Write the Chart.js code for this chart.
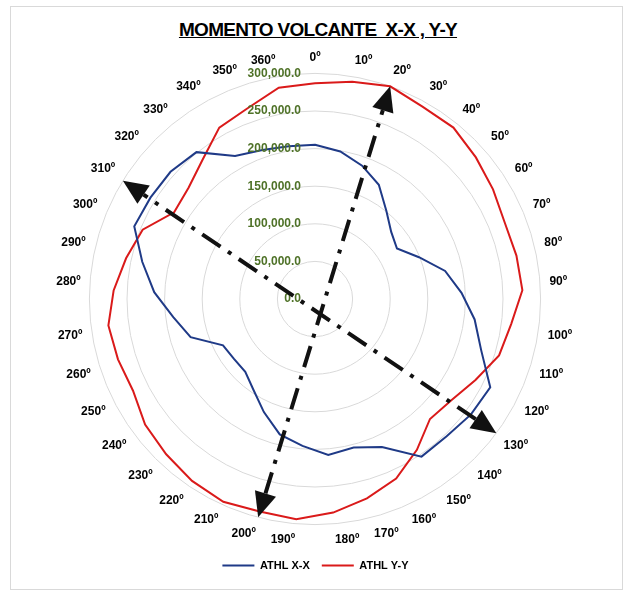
<!DOCTYPE html>
<html>
<head>
<meta charset="utf-8">
<script src="https://cdn.jsdelivr.net/npm/chart.js@4.4.1/dist/chart.umd.min.js"></script>
<style>
   body { margin: 0; background: #fff; }
   #frame { position: absolute; left: 10px; top: 6px; width: 611px; height: 582px; border: 1px solid #d9d9d9; }
   #title { position: absolute; left: 0; top: 19px; width: 636px; text-align: center; font: bold 19px "Liberation Sans", Arial, sans-serif; letter-spacing: -0.7px; text-decoration: underline; color: #000; }
   #chart-container { position: absolute; left: 0; top: 0; width: 625px; height: 597px; }
</style>
</head>
<body>
<div id="frame"></div>
<div id="title">MOMENTO VOLCANTE&nbsp; X-X , Y-Y</div>
<div id="chart-container"><canvas id="myChart" width="625" height="597"></canvas></div>
<script>
// categorias (grados)
const labels = ['0º','10º','20º','30º','40º','50º','60º','70º','80º','90º','100º','110º','120º','130º','140º','150º','160º','170º','180º',
   '190º','200º','210º','220º','230º','240º','250º','260º','270º','280º','290º','300º','310º','320º','330º','340º','350º','360º'];
// ATHL X-X
const athlXX = [205000,199000,188000,174000,151000,135000,128000,149000,177000,195000,214000,231000,261000,258000,253000,253000,216000,204000,208000,
   196000,186000,165000,146000,134000,134000,137000,173000,190000,214000,235000,259000,257000,256000,251000,218000,210000,206000];
// ATHL Y-Y
const athlYY = [287000,293000,300000,293000,293000,285000,278000,272000,274000,276000,263000,256000,239000,226000,221000,242000,262000,274000,285000,
   294000,292000,296000,292000,286000,281000,271000,274000,277000,268000,257000,247000,220000,224000,238000,261000,269000,285000];
const tickValues = [0,50000,100000,150000,200000,250000,300000];
// flechas (indice de categoria inicio -> fin)
const arrows = [[20, 2], [13, 31]];

const fmt = v => v.toLocaleString('en-US', {minimumFractionDigits: 1, maximumFractionDigits: 1});

// etiquetas del eje en verde, a la izquierda del centro
const tickPlugin = {
   id: 'tickText',
   afterDatasetsDraw(chart) {
      const s = chart.scales.r, ctx = chart.ctx;
      ctx.save();
      ctx.font = 'bold 12px "Liberation Sans", Arial, sans-serif';
      ctx.fillStyle = '#4F7228';
      ctx.textAlign = 'right';
      ctx.textBaseline = 'middle';
      tickValues.forEach(v => {
         ctx.fillText(fmt(v), s.xCenter - 14, s.yCenter - s.getDistanceFromCenterForValue(v));
      });
      ctx.restore();
   }
};

// flechas punto-raya
const arrowPlugin = {
   id: 'arrows',
   afterDatasetsDraw(chart) {
      const s = chart.scales.r, ctx = chart.ctx;
      const d = s.getDistanceFromCenterForValue(300000);
      ctx.save();
      arrows.forEach(([a, b]) => {
         const p1 = s.getPointPosition(a, d), p2 = s.getPointPosition(b, d);
         const ang = Math.atan2(p2.y - p1.y, p2.x - p1.x);
         const head = 25, w = 11;
         const q1 = {x: p1.x + Math.cos(ang) * head, y: p1.y + Math.sin(ang) * head};
         const q2 = {x: p2.x - Math.cos(ang) * head, y: p2.y - Math.sin(ang) * head};
         ctx.strokeStyle = '#111';
         ctx.lineWidth = 4;
         ctx.setLineDash([22, 9, 4, 9]);
         ctx.beginPath();
         ctx.moveTo(q1.x, q1.y);
         ctx.lineTo(q2.x, q2.y);
         ctx.stroke();
         ctx.setLineDash([]);
         ctx.fillStyle = '#111';
         [[p1, ang + Math.PI], [p2, ang]].forEach(([p, an]) => {
            ctx.beginPath();
            ctx.moveTo(p.x, p.y);
            ctx.lineTo(p.x - Math.cos(an) * head - Math.sin(an) * w, p.y - Math.sin(an) * head + Math.cos(an) * w);
            ctx.lineTo(p.x - Math.cos(an) * head + Math.sin(an) * w, p.y - Math.sin(an) * head - Math.cos(an) * w);
            ctx.closePath();
            ctx.fill();
         });
      });
      ctx.restore();
   }
};

const ctx = document.getElementById('myChart').getContext('2d');
new Chart(ctx, {
   type: 'radar',
   data: {
      labels: labels,
      datasets: [{
         label: 'ATHL X-X',
         data: athlXX,
         borderColor: '#1F3A87',
         backgroundColor: '#1F3A87',
         borderWidth: 2,
         fill: false,
         pointRadius: 0,
         tension: 0
      }, {
         label: 'ATHL Y-Y',
         data: athlYY,
         borderColor: '#DA1A1A',
         backgroundColor: '#DA1A1A',
         borderWidth: 2,
         fill: false,
         pointRadius: 0,
         tension: 0
      }]
   },
   options: {
      responsive: false,
      animation: false,
      layout: {padding: {top: 50, bottom: 16, left: 33, right: 27}},
      scales: {
         r: {
            min: 0,
            max: 300000,
            ticks: {stepSize: 50000, display: false},
            grid: {circular: true, color: '#d9d9d9', lineWidth: 1},
            angleLines: {display: false},
            pointLabels: {
               color: '#000',
               font: {family: '"Liberation Sans", Arial, sans-serif', size: 12, weight: 'bold'},
               padding: 9
            }
         }
      },
      plugins: {
         legend: {
            position: 'bottom',
            labels: {
               usePointStyle: true,
               pointStyle: 'line',
               pointStyleWidth: 32,
               color: '#000',
               font: {family: '"Liberation Sans", Arial, sans-serif', size: 11, weight: 'bold'},
               padding: 12
            }
         },
         tooltip: {enabled: false}
      }
   },
   plugins: [tickPlugin, arrowPlugin]
});
</script>
</body>
</html>
